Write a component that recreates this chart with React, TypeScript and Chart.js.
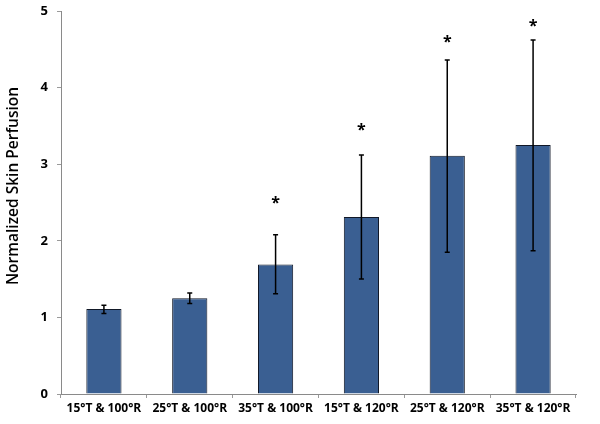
import React, { useEffect, useRef } from "react";
import { Chart, registerables } from "chart.js";

Chart.register(...registerables);

const categories = [
  "15°T & 100°R",
  "25°T & 100°R",
  "35°T & 100°R",
  "15°T & 120°R",
  "25°T & 120°R",
  "35°T & 120°R",
];
const means = [1.11, 1.25, 1.69, 2.31, 3.11, 3.25];
const errUpper = [1.16, 1.32, 2.08, 3.12, 4.36, 4.62];
const errLower = [1.05, 1.18, 1.31, 1.5, 1.85, 1.87];
const starValues = [null, null, 2.53, 3.48, 4.63, 4.84];
const yTicks = [0, 1, 2, 3, 4, 5];
const yTitle = "Normalized Skin Perfusion";

const FONT = "'Open Sans', 'Liberation Sans', sans-serif";

const errorBarPlugin = {
  id: "errorBars",
  afterDatasetsDraw(chart: any) {
    const ctx = chart.ctx;
    const meta = chart.getDatasetMeta(0);
    const y = chart.scales.y;
    ctx.save();
    ctx.strokeStyle = "#000";
    ctx.lineWidth = 1.5;
    meta.data.forEach((bar: any, i: number) => {
      const x = bar.x;
      const yt = y.getPixelForValue(errUpper[i]);
      const yb = y.getPixelForValue(errLower[i]);
      ctx.beginPath();
      ctx.moveTo(x, yt);
      ctx.lineTo(x, yb);
      ctx.moveTo(x - 2.5, yt);
      ctx.lineTo(x + 2.5, yt);
      ctx.moveTo(x - 2.5, yb);
      ctx.lineTo(x + 2.5, yb);
      ctx.stroke();
      const s = starValues[i];
      if (s !== null && s !== undefined) {
        ctx.fillStyle = "#000";
        ctx.font = `bold 16px ${FONT}`;
        ctx.textAlign = "center";
        ctx.textBaseline = "middle";
        ctx.fillText("*", x, y.getPixelForValue(s) + 3);
      }
    });
    // y-axis title
    ctx.save();
    ctx.translate(14, 186);
    ctx.rotate(-Math.PI / 2);
    ctx.fillStyle = "#000";
    ctx.font = `600 15.5px ${FONT}`;
    ctx.textAlign = "center";
    ctx.textBaseline = "middle";
    ctx.fillText(yTitle, 0, 0);
    ctx.restore();
    ctx.restore();
  },
};

export default function App() {
  const ref = useRef<HTMLCanvasElement>(null);
  useEffect(() => {
    if (!ref.current) return;
    const chart = new Chart(ref.current, {
      type: "bar",
      data: {
        labels: categories,
        datasets: [
          {
            data: means,
            backgroundColor: "#3A5F92",
            borderColor: "#111827",
            borderWidth: 1,
            categoryPercentage: 1,
            barPercentage: 0.41,
          },
        ],
      },
      options: {
        animation: false,
        responsive: false,
        maintainAspectRatio: false,
        layout: { padding: { top: 11, right: 24, left: 0, bottom: 0 } },
        plugins: {
          legend: { display: false },
          tooltip: { enabled: false },
        },
        scales: {
          x: {
            grid: {
              display: true,
              drawOnChartArea: false,
              tickLength: 4,
              color: "#9a9a9a",
              offset: true,
            },
            border: { color: "#8a8a8a", width: 1 },
            ticks: {
              color: "#000",
              font: { family: FONT, size: 12, weight: "bold" },
              maxRotation: 0,
              autoSkip: false,
              padding: 3,
            },
            afterFit(scale: any) {
              scale.height = 30;
              scale.paddingLeft = 0;
              scale.paddingRight = 0;
            },
          },
          y: {
            min: 0,
            max: 5,
            afterBuildTicks(scale: any) {
              scale.ticks = yTicks.map((v) => ({ value: v }));
            },
            grid: {
              display: true,
              drawOnChartArea: false,
              tickLength: 4,
              color: "#9a9a9a",
            },
            border: { color: "#8a8a8a", width: 1 },
            ticks: {
              color: "#000",
              font: { family: FONT, size: 13, weight: "bold" },
              padding: 9,
            },
            afterFit(scale: any) {
              scale.width = 61;
              scale.paddingTop = 0;
              scale.paddingBottom = 0;
            },
          },
        },
      },
      plugins: [errorBarPlugin],
    });
    return () => chart.destroy();
  }, []);
  return (
    <div style={{ position: "fixed", left: 0, top: 0, width: 600, height: 424, background: "#fff" }}>
      <canvas ref={ref} width={600} height={424} style={{ width: 600, height: 424 }} />
    </div>
  );
}
